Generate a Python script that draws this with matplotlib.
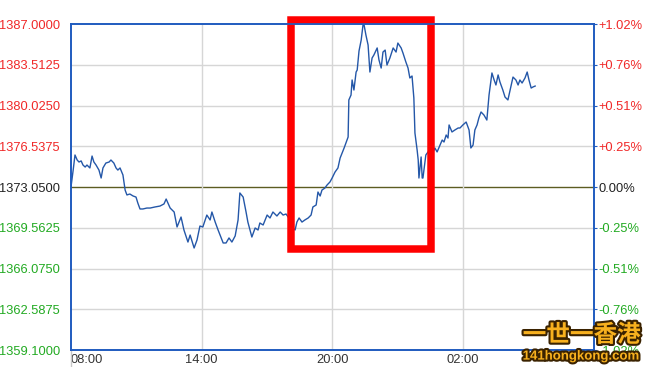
import matplotlib
matplotlib.use("Agg")
import matplotlib.pyplot as plt
import matplotlib.patheffects as pe
from matplotlib.patches import Rectangle

# minutes after 08:00 and price
minutes = [0, 6, 11, 17, 22, 28, 33, 39, 44, 52,
           58, 63, 69, 77, 83, 88, 96, 105, 110, 118,
           124, 129, 135, 143, 149, 154, 162, 171, 179, 184,
           190, 198, 209, 218, 231, 245, 256, 262, 267, 273,
           284, 292, 303, 311, 322, 328, 339, 347, 355, 363,
           374, 383, 388, 397, 405, 419, 427, 435, 443, 452,
           460, 465, 474, 482, 487, 498, 507, 515, 520, 529,
           540, 548, 556, 567, 576, 584, 592, 598, 606, 611,
           617, 622, 628, 636, 644, 653, 661, 666, 675, 680,
           686, 691, 699, 705, 713, 719, 727, 735, 741, 752,
           760, 763, 765, 771, 774, 779, 785, 788, 793, 799,
           804, 807, 812, 818, 823, 829, 834, 843, 848, 854,
           859, 865, 870, 878, 887, 895, 900, 909, 914, 922,
           928, 933, 939, 944, 947, 953, 956, 958, 964, 967,
           969, 977, 983, 991, 997, 1002, 1008, 1016, 1022, 1027,
           1033, 1038, 1041, 1049, 1057, 1066, 1071, 1079, 1088, 1096,
           1101, 1107, 1112, 1118, 1123, 1129, 1137, 1145, 1151, 1159,
           1165, 1170, 1176, 1181, 1189, 1195, 1203, 1209, 1217, 1225,
           1231, 1236, 1242, 1250, 1256, 1261, 1267, 1272, 1278]
price = [1373.05, 1374.50, 1375.79, 1375.36, 1375.19, 1375.28, 1374.93, 1374.76, 1374.93, 1374.68,
         1375.70, 1375.19, 1374.93, 1374.50, 1373.82, 1374.68, 1375.10, 1375.19, 1375.36, 1375.10,
         1374.68, 1374.50, 1374.68, 1374.08, 1372.79, 1372.37, 1372.45, 1372.28, 1372.19, 1371.68,
         1371.17, 1371.17, 1371.25, 1371.25, 1371.34, 1371.42, 1371.60, 1372.02, 1371.68, 1371.25,
         1370.91, 1369.63, 1370.48, 1369.37, 1368.34, 1368.94, 1367.83, 1368.52, 1369.71, 1369.63,
         1370.65, 1370.23, 1370.91, 1370.05, 1369.37, 1368.26, 1368.26, 1368.69, 1368.34, 1368.86,
         1370.23, 1372.54, 1372.19, 1370.91, 1370.05, 1368.77, 1369.54, 1369.37, 1369.97, 1369.80,
         1370.65, 1370.40, 1370.91, 1370.57, 1370.91, 1370.65, 1370.74, 1370.48, 1370.05, 1369.54,
         1369.37, 1370.05, 1370.40, 1370.05, 1370.23, 1370.40, 1370.65, 1371.34, 1371.51, 1372.62,
         1372.28, 1372.79, 1372.96, 1373.22, 1373.48, 1373.82, 1374.33, 1374.68, 1375.53, 1376.39,
         1377.07, 1377.33, 1380.50, 1380.92, 1382.21, 1381.35, 1382.89, 1383.06, 1384.69, 1385.63,
         1386.91, 1386.91, 1386.06, 1385.20, 1382.89, 1384.09, 1384.35, 1384.95, 1383.92, 1383.23,
         1384.60, 1384.77, 1383.49, 1384.09, 1384.95, 1384.60, 1385.37, 1384.95, 1384.52, 1383.75,
         1383.23, 1382.38, 1382.55, 1380.67, 1377.67, 1376.22, 1375.36, 1373.82, 1375.62, 1373.82,
         1373.82, 1375.79, 1376.05, 1376.22, 1376.05, 1376.39, 1376.05, 1376.64, 1377.07, 1376.90,
         1377.50, 1377.24, 1378.36, 1377.76, 1377.93, 1378.10, 1378.10, 1378.36, 1378.61, 1377.93,
         1376.39, 1376.64, 1377.93, 1378.36, 1378.96, 1379.47, 1379.21, 1378.78, 1380.92, 1382.81,
         1382.21, 1381.78, 1382.64, 1382.04, 1381.35, 1380.75, 1380.50, 1381.35, 1382.46, 1382.21,
         1381.78, 1382.21, 1381.95, 1382.38, 1382.89, 1382.21, 1381.52, 1381.61, 1381.69]

prev_close = 1373.05
y_ticks = [1387.0, 1383.5125, 1380.025, 1376.5375, 1373.05, 1369.5625, 1366.075, 1362.5875, 1359.1]
pct_labels = ["+1.02%", "+0.76%", "+0.51%", "+0.25%", "0.00%", "-0.25%", "-0.51%", "-0.76%", "-1.02%"]
x_ticks = [0, 360, 720, 1080]
x_labels = ["08:00", "14:00", "20:00", "02:00"]
highlight = [606, 990, 1367.74, 1387.30]  # x0, x1, y0, y1

RED = "#f02828"
GREEN = "#22aa22"
BLUE = "#1f5bbf"

plt.rcParams["font.family"] = ["Liberation Sans", "DejaVu Sans"]

fig = plt.figure(figsize=(6.46, 3.67), dpi=100)
ax = fig.add_axes([0.1099, 0.0463, 0.8096, 0.8883])
ax.set_xlim(0, 1440)
ax.set_ylim(y_ticks[-1], y_ticks[0])

for v in y_ticks[1:-1]:
    if v == prev_close:
        ax.axhline(v, color="#5c5c22", lw=1, zorder=1)
    else:
        ax.axhline(v, color="#d6d6d6", lw=1, zorder=1)
for v in x_ticks[1:]:
    ax.axvline(v, color="#d6d6d6", lw=1, zorder=1)

ax.plot(minutes, price, color="#2457a8", lw=1, zorder=3)

for s in ax.spines.values():
    s.set_color(BLUE)
    s.set_linewidth(1.2)

ax.set_yticks(y_ticks)
ax.set_yticklabels(["%.4f" % v for v in y_ticks])
ax.tick_params(axis="y", length=0, pad=8, labelsize=9.3)
for lab, v in zip(ax.get_yticklabels(), y_ticks):
    lab.set_color(RED if v > prev_close else (GREEN if v < prev_close else "#222222"))

ax2 = ax.twinx()
ax2.set_ylim(ax.get_ylim())
ax2.set_yticks(y_ticks)
ax2.set_yticklabels(pct_labels)
ax2.tick_params(axis="y", length=2, pad=1, labelsize=9.3, color=BLUE)
for lab, v in zip(ax2.get_yticklabels(), y_ticks):
    lab.set_color(RED if v > prev_close else (GREEN if v < prev_close else "#222222"))
for s in ax2.spines.values():
    s.set_color(BLUE)
    s.set_linewidth(1.2)

ax.set_xticks(x_ticks)
ax.set_xticklabels(x_labels)
ax.tick_params(axis="x", length=0, pad=3, labelsize=9.3, labelcolor="#333333")
ax.get_xticklabels()[0].set_ha("left")
ax.get_xticklabels()[0].set_x(8)
ax.axvline(0, ymin=-0.06, ymax=0, color="#c8c8c8", lw=1, clip_on=False)

rect = Rectangle((highlight[0], highlight[2]), highlight[1] - highlight[0],
                 highlight[3] - highlight[2], fill=False, edgecolor="#ff0000",
                 lw=5.4, clip_on=False, zorder=5)
ax.add_patch(rect)

outline = [pe.withStroke(linewidth=3, foreground="#3a2200")]
fig.text(0.992, 0.055, "一世一香港", ha="right", va="bottom", fontsize=17,
         fontweight="bold", color="#f7b01e", family=["Noto Sans CJK SC"],
         path_effects=outline, zorder=10)
fig.text(0.99, 0.012, "141hongkong.com", ha="right", va="bottom", fontsize=9.5,
         fontweight="bold", color="#f7b01e", path_effects=outline, zorder=10)

fig.savefig("out.png", dpi=100)
